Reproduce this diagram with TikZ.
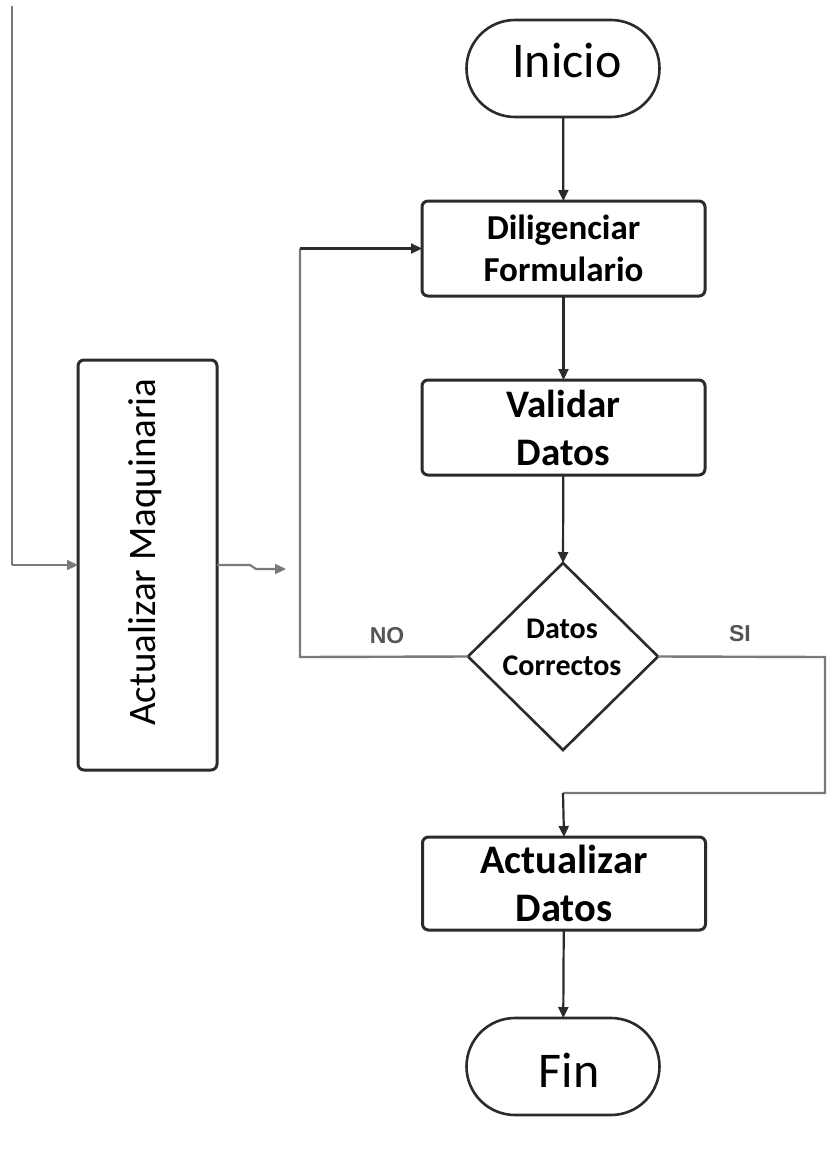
\documentclass[tikz,border=0pt]{standalone}
\usepackage{fontspec}
\setmainfont{Carlito}
\newfontfamily\labfont{Liberation Sans}
\usetikzlibrary{shapes.geometric,shapes.misc,arrows.meta}
\definecolor{inkc}{HTML}{2B2B2B}
\definecolor{grayline}{HTML}{7A7A7A}
\definecolor{labgray}{HTML}{555555}
\begin{document}
\begin{tikzpicture}[x=1pt,y=-1pt,
  every node/.style={inner sep=0pt,outer sep=0pt},
  terminal/.style={draw=inkc,line width=2.6pt,rounded rectangle,minimum width=193pt,minimum height=97pt,font=\fontsize{50}{56}\selectfont},
  procbox/.style={draw=inkc,line width=3pt,rounded corners=6pt,rectangle,minimum width=283pt,align=center},
  decision/.style={draw=inkc,line width=2.6pt,diamond,minimum width=190pt,minimum height=187pt},
  flow/.style={draw=inkc,line width=2.2pt,-{Triangle[length=11pt,width=10pt]}},
  branch/.style={draw=grayline,line width=2.4pt},
  branchlab/.style={font=\labfont\bfseries\fontsize{23}{25}\selectfont,text=labgray}]
\fill[white] (0,0) rectangle (828,1151);

% main column
\node[terminal,text height=30pt,text depth=13pt] (ini) at (563,68.5) {\hspace{8pt}Inicio};
\node[procbox,minimum height=95pt,font=\bfseries\fontsize{35}{42}\selectfont] (dil) at (563.5,248.5) {Diligenciar\\Formulario};
\node[procbox,minimum height=95pt,font=\bfseries\fontsize{39}{48}\selectfont] (val) at (563.5,427.5) {Validar\\Datos};
\node[decision] (dec) at (563,656.5) {};
\node[align=center,font=\bfseries\fontsize{30}{37}\selectfont] (dectext) at (562,647) {Datos\\Correctos};
\node[procbox,minimum height=93pt,font=\bfseries\fontsize{40.5}{48}\selectfont] (act) at (564,883.5) {Actualizar\\Datos};
\node[terminal,text height=41pt,text depth=0pt] (fin) at (563,1066.5) {\hspace{12pt}Fin};

% side process
\node[draw=inkc,line width=3pt,rounded corners=6pt,minimum width=139pt,minimum height=410pt] (maq) at (147.5,565) {};
\node[rotate=90,font=\fontsize{39}{44}\selectfont] (maqtext) at (145,552) {Actualizar Maquinaria};

% helper points
\coordinate (feed) at (12,6);
\coordinate (nocorner) at (300,657);
\coordinate (notop) at (300,248.5);
\coordinate (sitop) at (825,657);
\coordinate (sibot) at (825,793);
\coordinate (siturn) at (563,793);
\coordinate (tip) at (286,569);

% connectors
\draw[flow] (ini) -- (dil);
\draw[flow] (dil) -- (val);
\draw[flow] (val) -- (dec.north);
\draw[flow] (act) -- (fin);
\draw[branch,line join=miter] (dec.west) -- (nocorner) -- (notop);
\draw[flow] (notop) -- (dil.west);
\draw[branch] (dec.east) -- (sitop) -- (sibot) -- (siturn);
\draw[flow] (siturn) -- (act.north);
\draw[draw=grayline,line width=2.4pt] (feed) -- (12,565);
\draw[flow,draw=grayline] (12,565) -- (maq.west);
\draw[flow,draw=grayline] (maq.east) -- ++(33,0) -- ++(6,4) -- (tip);

% branch labels
\node[branchlab] (nolab) at (387,636) {NO};
\node[branchlab] (silab) at (740,634) {SI};
\end{tikzpicture}
\end{document}
